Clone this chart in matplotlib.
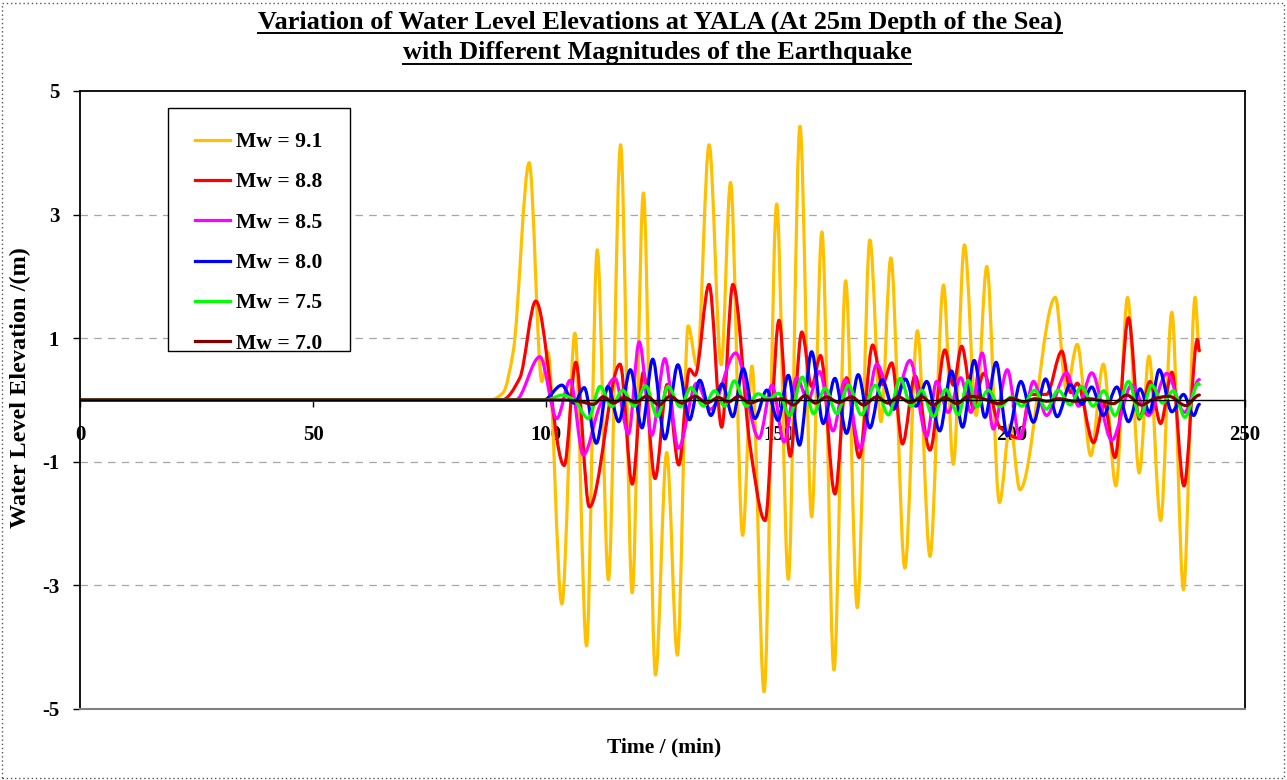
import numpy as np
import matplotlib
matplotlib.use("Agg")
import matplotlib.pyplot as plt
from matplotlib.path import Path
from matplotlib.patches import PathPatch, Rectangle
from matplotlib.lines import Line2D

plt.rcParams['font.family'] = ['Liberation Serif', 'DejaVu Serif']
plt.rcParams['font.weight'] = 'bold'

# ---- data: (time in min, water level in m) at turning points ----
t_91 = [0, 88, 90.8, 93.0, 96.4, 99.1, 100.4, 103.4, 106.2, 108.7, 111.0, 113.4, 116.0, 118.5, 120.9,
        123.5, 125.9, 128.2, 130.5, 132.4, 135.0, 137.6, 139.6, 142.2, 144.2, 146.8, 149.5, 152.0,
        154.5, 157.0, 159.2, 161.8, 164.3, 166.8, 169.5, 171.9, 174.0, 177.0, 179.7, 182.4, 185.3,
        187.4, 189.8, 192.3, 194.6, 197.3, 199.6, 201.7, 209.3, 211.7, 214.0, 216.9, 219.6, 222.3,
        224.8, 227.3, 229.4, 231.9, 234.3, 236.8, 239.3, 240.2]
v_91 = [0, 0, 0.12, 0.80, 3.84, 0.30, 0.78, -3.30, 1.08, -3.98, 2.43, -2.91, 4.13, -3.12, 3.35,
        -4.45, -0.85, -4.13, 1.20, 0.55, 4.13, 0.57, 3.52, -2.19, 0.55, -4.72, 3.17, -2.90,
        4.43, -1.89, 2.72, -4.37, 1.93, -3.36, 2.59, -0.35, 2.30, -2.72, 1.12, -2.53, 1.86,
        -1.04, 2.51, -0.25, 2.16, -1.66, -0.40, -1.45, 1.66, 0.16, 0.90, -0.90, 0.58, -1.39,
        1.66, -1.18, 0.71, -1.95, 1.42, -3.07, 1.66, 0.79]

t_88 = [0, 90.5, 94.4, 97.8, 103.9, 106.4, 109.3, 115.9, 118.5, 120.9, 123.4, 126.0, 128.5, 130.8,
        132.0, 135.0, 137.7, 140.1, 143.8, 147.0, 150.0, 152.4, 154.9, 157.0, 158.9, 162.0, 164.5,
        167.2, 170.1, 172.2, 174.2, 176.5, 179.2, 182.4, 185.6, 187.4, 189.2, 191.7, 193.9, 197.4,
        201.8, 203.9, 207.4, 210.7, 212.6, 214.0, 217.5, 219.8, 222.1, 225.0, 227.3, 229.6, 231.9,
        234.3, 236.9, 239.8, 240.2]
v_88 = [0, 0, 0.36, 1.60, -1.06, 0.61, -1.73, 0.58, -1.36, 0.45, -1.27, 0.25, -1.05, 0.50,
        0.40, 1.87, -0.44, 1.87, -0.75, -1.95, 1.29, -0.91, 1.10, 0.22, 0.72, -1.52, 0.36,
        -0.93, 0.89, 0.25, 0.60, -0.71, 0.39, -0.81, 0.81, 0.24, 0.87, -0.13, 0.43, -0.44,
        -0.62, 0.09, 0.09, 0.79, 0.12, 0.27, -0.69, -0.07, -0.93, 1.33, -0.31, 0.30, -0.38,
        0.45, -1.39, 0.98, 0.80]

t_85 = [0, 93.5, 98.7, 102.3, 105.2, 108.0, 111.5, 114.8, 117.7, 120.0, 122.7, 125.5, 128.4, 132.3,
        135.3, 140.7, 145.7, 148.5, 151.1, 153.8, 156.2, 158.7, 161.6, 164.2, 167.4, 171.0, 174.5,
        178.1, 181.7, 183.8, 186.3, 189.0, 191.2, 193.6, 196.0, 199.0, 201.7, 204.6, 207.4, 211.7,
        214.3, 217.1, 221.4, 225.7, 229.3, 233.2, 237.0, 240.2]
v_85 = [0, 0, 0.70, -0.30, 0.32, -0.89, -0.10, 0.35, -0.55, 0.94, -0.57, 0.67, -0.78, 0.27,
        -0.15, 0.76, -0.62, 0.24, -0.68, 0.36, 0.00, 0.46, -0.50, 0.33, -0.78, 0.58, -0.10,
        0.64, -0.59, 0.30, -0.20, 0.36, -0.20, 0.76, -0.47, 0.49, -0.62, 0.30, -0.25, 0.44,
        -0.10, 0.44, -0.65, 0.24, -0.25, 0.43, -0.20, 0.33]

t_80 = [0, 99.5, 103.4, 106.0, 108.2, 110.8, 113.3, 115.6, 118.1, 120.6, 122.9, 125.5, 128.3, 130.8,
        133.0, 135.4, 137.8, 140.1, 142.3, 144.8, 147.4, 149.8, 152.0, 154.4, 157.0, 159.5, 162.0,
        164.5, 167.0, 169.5, 172.1, 174.6, 177.1, 179.4, 181.7, 184.5, 187.0, 189.4, 191.9, 194.2,
        196.6, 199.0, 201.9, 204.6, 207.2, 209.7, 212.5, 215.0, 217.1, 219.6, 222.5, 225.0, 227.5,
        229.5, 231.6, 234.3, 236.8, 239.0, 240.2]
v_80 = [0, 0, 0.24, -0.05, 0.20, -0.70, 0.22, -0.35, 0.49, -0.45, 0.66, -0.63, 0.57, -0.32,
        0.32, -0.25, 0.26, -0.27, 0.51, -0.30, 0.16, -0.33, 0.40, -0.73, 0.78, -0.38, 0.35,
        -0.54, 0.41, -0.45, 0.33, -0.15, 0.34, -0.10, 0.30, -0.50, 0.47, -0.44, 0.64, -0.28,
        0.61, -0.58, 0.30, -0.36, 0.34, -0.27, 0.25, -0.07, 0.21, -0.25, 0.21, -0.35, 0.18,
        -0.20, 0.49, -0.19, 0.09, -0.25, -0.07]

t_75 = [0, 100.0, 103.5, 106.0, 109.1, 111.6, 114.1, 116.4, 118.9, 121.4, 123.9, 126.2, 128.8, 131.1,
        133.8, 136.2, 138.3, 140.4, 143.0, 145.5, 147.8, 149.9, 152.3, 155.0, 157.4, 159.9, 162.4,
        164.9, 167.7, 170.6, 173.5, 176.0, 178.4, 180.6, 183.1, 185.8, 188.5, 190.6, 192.4, 194.9,
        197.4, 199.9, 202.1, 204.9, 207.4, 209.9, 212.5, 214.9, 217.4, 219.7, 222.1, 225.0, 227.5,
        230.0, 232.3, 234.6, 237.1, 240.0, 240.2]
v_75 = [0, 0, 0.08, 0.00, -0.30, 0.22, -0.11, 0.16, -0.10, 0.23, -0.27, 0.22, -0.11, 0.20,
        -0.10, 0.15, -0.10, 0.31, -0.10, 0.10, 0.02, 0.11, -0.25, 0.37, -0.22, 0.19, -0.22,
        0.24, -0.24, 0.24, -0.24, 0.35, -0.10, 0.16, -0.27, 0.17, -0.24, 0.32, -0.11, 0.16,
        -0.11, 0.05, -0.10, 0.16, -0.15, 0.16, -0.08, 0.22, -0.10, 0.15, -0.25, 0.30, -0.28,
        0.24, -0.05, 0.15, -0.28, 0.27, 0.25]

t_70 = [0, 104.0, 107.0, 110.2, 112.3, 114.5, 116.8, 119.2, 121.6, 124.3, 126.6, 129.2, 132.0, 134.5,
        137.0, 139.2, 141.3, 143.8, 146.0, 148.5, 150.7, 153.1, 155.6, 157.8, 160.2, 162.8, 165.6,
        168.1, 171.0, 173.4, 175.6, 178.2, 180.7, 183.1, 185.6, 188.2, 190.6, 192.4, 197.4, 199.9,
        202.5, 205.0, 207.5, 210.0, 213.5, 216.5, 219.5, 221.7, 224.6, 227.8, 230.5, 233.7, 237.3,
        240.2]
v_70 = [0, 0, -0.02, -0.07, 0.05, -0.05, 0.04, -0.04, 0.06, -0.08, 0.06, -0.05, 0.06, -0.05,
        0.04, -0.03, 0.06, -0.05, 0.00, 0.00, 0.02, -0.08, 0.07, -0.05, 0.05, -0.04, 0.05,
        -0.08, 0.05, -0.05, 0.05, -0.04, 0.05, -0.08, 0.04, -0.06, 0.06, 0.05, -0.06, 0.03,
        -0.03, 0.02, -0.02, 0.02, -0.02, 0.02, -0.02, -0.06, 0.08, -0.08, 0.02, 0.06, -0.09,
        0.08]

labels = ['Mw = 9.1', 'Mw = 8.8', 'Mw = 8.5', 'Mw = 8.0', 'Mw = 7.5', 'Mw = 7.0']
colors = ['#FFC000', '#FF0000', '#FF00FF', '#0000FF', '#00FF00', '#800000']
series = [(t_91, v_91), (t_88, v_88), (t_85, v_85), (t_80, v_80), (t_75, v_75), (t_70, v_70)]


def smooth_path(t, v):
    # smoothed line through the points (shape-preserving cubic, drawn as bezier curves)
    t = np.asarray(t, float)
    v = np.asarray(v, float)
    h = np.diff(t)
    d = np.diff(v) / h
    m = np.zeros_like(v)
    for k in range(1, len(t) - 1):
        if d[k - 1] * d[k] > 0:
            w1 = 2 * h[k] + h[k - 1]
            w2 = h[k] + 2 * h[k - 1]
            m[k] = (w1 + w2) / (w1 / d[k - 1] + w2 / d[k])
    verts = [(t[0], v[0])]
    codes = [Path.MOVETO]
    for k in range(len(h)):
        verts += [(t[k] + h[k] / 3, v[k] + m[k] * h[k] / 3),
                  (t[k + 1] - h[k] / 3, v[k + 1] - m[k + 1] * h[k] / 3),
                  (t[k + 1], v[k + 1])]
        codes += [Path.CURVE4] * 3
    return Path(verts, codes)


W, H = 1287, 780
fig = plt.figure(figsize=(W / 100, H / 100), dpi=100)
ax = fig.add_axes([80 / W, 1 - 709 / H, (1245 - 80) / W, (709 - 91) / H])

for (t, v), c in zip(series, colors):
    ax.add_patch(PathPatch(smooth_path(t, v), fill=False, edgecolor=c, lw=2.3,
                           capstyle='round', joinstyle='round', zorder=2))

ax.set_xlim(0, 250)
ax.set_ylim(-5, 5)
ax.set_xticks([0, 50, 100, 150, 200, 250])
ax.set_yticks([-5, -3, -1, 1, 3, 5])
ax.set_yticklabels(['-5', '-3', '-1', '1', '3', '5'])

for y in [-3, -1, 1, 3]:
    ax.axhline(y, color='#A6A6A6', lw=0.9, dashes=(6, 5), zorder=0)

ax.spines['bottom'].set_position(('data', 0))
ax.spines['bottom'].set_linewidth(1.0)
for s in ['left', 'top', 'right']:
    ax.spines[s].set_linewidth(1.3)
ax.axhline(-5, color='#808080', lw=1.5, clip_on=False, zorder=3)

ax.tick_params(axis='x', direction='out', length=5, width=1, pad=13, labelsize=15)
ax.tick_params(axis='y', direction='out', length=5, width=1, pad=10, labelsize=15)
for lab in ax.get_xticklabels() + ax.get_yticklabels():
    lab.set_fontweight('bold')

fig.text(20 / W, 1 - 388 / H, 'Water Level Elevation /(m)', rotation=90, ha='center', va='center',
         fontsize=17.5, fontweight='bold')
fig.text(664 / W, 1 - 747 / H, 'Time / (min)', ha='center', va='center', fontsize=15.5,
         fontweight='bold')

t1 = fig.text(660 / W, 1 - 22 / H, 'Variation of Water Level Elevations at YALA (At 25m Depth of the Sea)',
              ha='center', va='center', fontsize=18.9, fontweight='bold')
t2 = fig.text(657 / W, 1 - 53 / H, 'with Different Magnitudes of the Earthquake',
              ha='center', va='center', fontsize=18.9, fontweight='bold')

# legend: entries without frame, box drawn separately (Excel-style padding)
ax_w, ax_h = 1165, 618
ax.add_patch(Rectangle(((168 - 80) / ax_w, (709 - 351) / ax_h), 182 / ax_w, 243 / ax_h,
                       transform=ax.transAxes, facecolor='white', edgecolor='black', lw=1.0, zorder=5))
handles = [Line2D([], [], color=c, lw=2.3) for c in colors]
leg = ax.legend(handles, labels, loc='upper left', bbox_to_anchor=((195 - 80) / ax_w, (709 - 132) / ax_h),
                borderaxespad=0, frameon=False, prop={'size': 15.6, 'weight': 'bold'},
                handlelength=1.6, handletextpad=0.28, labelspacing=0.93, borderpad=0)
leg.set_zorder(6)

# underline the title lines
fig.canvas.draw()
r = fig.canvas.get_renderer()
for tx in (t1, t2):
    bb = tx.get_window_extent(r)
    yy = (bb.y0 + 1) / H
    fig.add_artist(Line2D([bb.x0 / W, bb.x1 / W], [yy, yy], color='black', lw=1.4,
                          transform=fig.transFigure))

fig.add_artist(Rectangle((2 / W, 2 / H), (W - 5) / W, (H - 5) / H, transform=fig.transFigure,
                         fill=False, ls=(0, (1, 2)), lw=1.0, ec='#555555'))

fig.savefig('out.png', dpi=100)
